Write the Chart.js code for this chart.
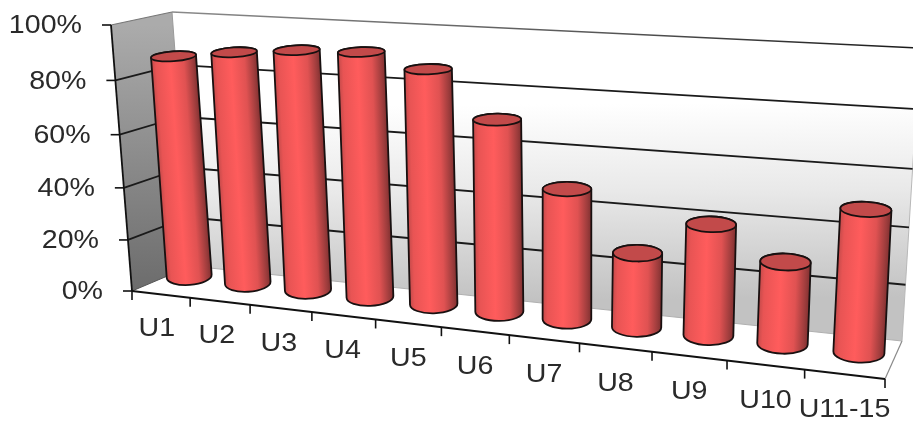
<!DOCTYPE html>
<html>
<head>
<meta charset="utf-8">
<style>html,body{margin:0;padding:0;background:#fff}canvas{display:block}</style>
<script src="https://cdn.jsdelivr.net/npm/chart.js@4"></script>
</head>
<body>
<canvas id="c" width="913" height="423"></canvas>
<script>
// Share per age group, drawn as cylinders inside a 3D box.
const categories = ['U1','U2','U3','U4','U5','U6','U7','U8','U9','U10','U11-15'];
const shares = [85.1,88,90.2,91,86.4,70.3,47.6,27,39.7,29,49.5];
const valueTicks = [0,20,40,60,80,100];

// Corners of the box on screen: front face, back face, and the plane the bars stand in.
const front = {bl:[132,291], tl:[111,25], br:[885,379], tr:[900,73]};
const back  = {bl:[191,266], tl:[172,12], br:[902,341], tr:[920,48]};
const barPlane = {bl:[160.5,273], tl:[140.5,14], br:[898,357], tr:[914.5,58]};
const U_PERSPECTIVE = 0.837, BAR_U_PERSPECTIVE = 0.85, V_PERSPECTIVE = 0.95;
const LABEL_STRETCH = 1.1;

const bend = (t, a) => t * a / (1 + (a - 1) * t);
const mix = (p, q, t) => [p[0] + (q[0] - p[0]) * t, p[1] + (q[1] - p[1]) * t];

function onFace(f, u, v, uBend = U_PERSPECTIVE) {
  const a = bend(u, uBend), b = bend(v, V_PERSPECTIVE);
  return mix(mix(f.bl, f.br, a), mix(f.tl, f.tr, a), b);
}

function polygon(ctx, pts) {
  ctx.beginPath();
  pts.forEach((p, i) => i ? ctx.lineTo(p[0], p[1]) : ctx.moveTo(p[0], p[1]));
  ctx.closePath();
}
function segment(ctx, p, q, color, width) {
  ctx.strokeStyle = color; ctx.lineWidth = width;
  ctx.beginPath(); ctx.moveTo(p[0], p[1]); ctx.lineTo(q[0], q[1]); ctx.stroke();
}
// Axis text is slightly wider than the font's natural proportions.
function stretchedText(ctx, text, x, y) {
  ctx.save();
  ctx.translate(x, y);
  ctx.scale(LABEL_STRETCH, 1);
  ctx.fillText(text, 0, 0);
  ctx.restore();
}

// A bar element that turns its rectangle into a projected cylinder.
class CylinderBar extends Chart.BarElement {
  static id = 'cylinderBar';
  draw(ctx) {
    const area = this.$area;
    const u = (this.x - area.left) / area.width;
    const vTop = (area.bottom - this.y) / area.height;
    const vBase = (area.bottom - this.base) / area.height;
    const t = onFace(barPlane, u, vTop, BAR_U_PERSPECTIVE), b = onFace(barPlane, u, vBase, BAR_U_PERSPECTIVE);
    const rx = this.width / 2 * (1 + 0.15 * u);
    const ryOf = y => 4 + 0.017 * y;
    const angle = Math.atan2(t[0] - b[0], b[1] - t[1]);
    const cos = Math.cos(angle), sin = Math.sin(angle);
    const mid = mix(t, b, 0.5);
    const g = ctx.createLinearGradient(mid[0] - rx * cos, mid[1] - rx * sin, mid[0] + rx * cos, mid[1] + rx * sin);
    g.addColorStop(0, '#c44a4a');
    g.addColorStop(0.1, '#e85454');
    g.addColorStop(0.42, '#ff5c5c');
    g.addColorStop(0.72, '#e05252');
    g.addColorStop(0.92, '#9c3c3c');
    g.addColorStop(1, '#803030');

    ctx.save();
    ctx.lineJoin = 'round';
    ctx.beginPath();
    ctx.ellipse(b[0], b[1], rx, ryOf(b[1]), angle, Math.PI, 0, true);
    ctx.ellipse(t[0], t[1], rx, ryOf(t[1]), angle, 0, Math.PI, true);
    ctx.closePath();
    ctx.fillStyle = g;
    ctx.fill();
    ctx.strokeStyle = '#181010';
    ctx.lineWidth = 1.8;
    ctx.stroke();

    ctx.beginPath();
    ctx.ellipse(t[0], t[1], rx, ryOf(t[1]), angle, 0, Math.PI * 2);
    ctx.fillStyle = '#c24a4a';
    ctx.fill();
    ctx.stroke();
    ctx.restore();
  }
}

class CylinderController extends Chart.BarController {
  static id = 'cylinder';
  static defaults = {...Chart.BarController.defaults, dataElementType: 'cylinderBar'};
  static overrides = Chart.BarController.overrides;
  draw() {
    this.getMeta().data.forEach(el => { el.$area = this.chart.chartArea; });
    super.draw();
  }
}
Chart.register(CylinderBar, CylinderController);

// Walls, floor, gridlines, axes and their labels.
const boxPlugin = {
  id: 'box',
  beforeDatasetsDraw(chart) {
    const {ctx, scales: {x, y}, chartArea: area} = chart;
    const vOf = value => (area.bottom - y.getPixelForValue(value)) / area.height;
    ctx.save();

    polygon(ctx, [front.bl, back.bl, back.br, front.br]);
    ctx.fillStyle = '#fff';
    ctx.fill();

    const s = onFace(back, 0.5, 1), e = onFace(back, 0.5, 0);
    const wall = ctx.createLinearGradient(s[0], s[1], e[0], e[1]);
    wall.addColorStop(0, '#fff');
    wall.addColorStop(0.28, '#fff');
    wall.addColorStop(0.6, '#e9e9e9');
    wall.addColorStop(1, '#c2c2c2');
    polygon(ctx, [back.tl, back.tr, back.br, back.bl]);
    ctx.fillStyle = wall;
    ctx.fill();

    const side = ctx.createLinearGradient(0, front.tl[1], 0, front.bl[1]);
    side.addColorStop(0, '#ababab');
    side.addColorStop(1, '#6c6c6c');
    polygon(ctx, [front.tl, back.tl, back.bl, front.bl]);
    ctx.fillStyle = side;
    ctx.fill();

    // Floor and wall edges
    segment(ctx, back.bl, back.br, '#b0b0b0', 1);
    segment(ctx, back.br, front.br, '#8a8a8a', 1.2);
    segment(ctx, back.br, back.tr, '#b8b8b8', 1);
    segment(ctx, back.tl, back.bl, '#9a9a9a', 1);

    y.ticks.forEach(tick => {
      const v = vOf(tick.value);
      const l0 = onFace(front, 0, v), l1 = onFace(back, 0, v), r1 = onFace(back, 1, v);
      if (v === 0) {
        segment(ctx, l0, l1, '#555', 1);
      } else if (v === 1) {
        // The top edge fades from grey to near black going right.
        const edge = ctx.createLinearGradient(l1[0], 0, 913, 0);
        edge.addColorStop(0, '#8a8a8a');
        edge.addColorStop(0.6, '#555');
        edge.addColorStop(1, '#1a1a1a');
        segment(ctx, l0, l1, '#777', 1.2);
        segment(ctx, l1, r1, edge, 1.5);
      } else {
        segment(ctx, l0, l1, '#1a1a1a', 1.8);
        segment(ctx, l1, r1, '#1a1a1a', 1.8);
      }
    });

    // Value axis with its ticks and labels
    segment(ctx, front.tl, front.bl, '#111', 1.8);
    ctx.font = '26px "Liberation Sans", Arial, sans-serif';
    ctx.textBaseline = 'middle';
    ctx.textAlign = 'right';
    y.ticks.forEach(tick => {
      const p = onFace(front, 0, vOf(tick.value));
      segment(ctx, [p[0] - 9, p[1]], [p[0], p[1]], '#111', 1.6);
      ctx.fillStyle = '#2a2a2a';
      stretchedText(ctx, tick.label, p[0] - 29, p[1] + 1);
    });

    // Category axis runs along the front of the floor
    segment(ctx, front.bl, front.br, '#111', 1.8);
    const cell = area.width / categories.length;
    for (let i = 0; i <= categories.length; i++) {
      const p = onFace(front, (i * cell) / area.width, 0);
      segment(ctx, p, [p[0], p[1] + 9], '#111', 1.6);
    }
    ctx.textAlign = 'center';
    x.ticks.forEach((tick, i) => {
      const p = onFace(front, (x.getPixelForTick(i) - area.left) / area.width, 0);
      const lead = Math.max(0, 4 - i);
      ctx.fillStyle = '#2a2a2a';
      stretchedText(ctx, tick.label, p[0] - lead, p[1] + 36 - lead / 2);
    });
    ctx.restore();
  }
};

new Chart(document.getElementById('c'), {
  type: 'cylinder',
  data: {
    labels: categories,
    datasets: [{data: shares, backgroundColor: '#ff5c5c', categoryPercentage: 1, barPercentage: 0.66, clip: false}]
  },
  options: {
    responsive: false,
    animation: false,
    layout: {padding: {left: 130, right: 30, top: 25, bottom: 132}},
    plugins: {legend: {display: false}, tooltip: {enabled: false}},
    scales: {
      x: {type: 'category', offset: true, grid: {display: false}, border: {display: false}, ticks: {display: false, autoSkip: false}},
      y: {
        type: 'linear', min: 0, max: 100,
        afterBuildTicks: scale => { scale.ticks = valueTicks.map(value => ({value})); },
        grid: {display: false}, border: {display: false},
        ticks: {display: false, callback: value => value + '%'}
      }
    }
  },
  plugins: [boxPlugin]
});
</script>
</body>
</html>
